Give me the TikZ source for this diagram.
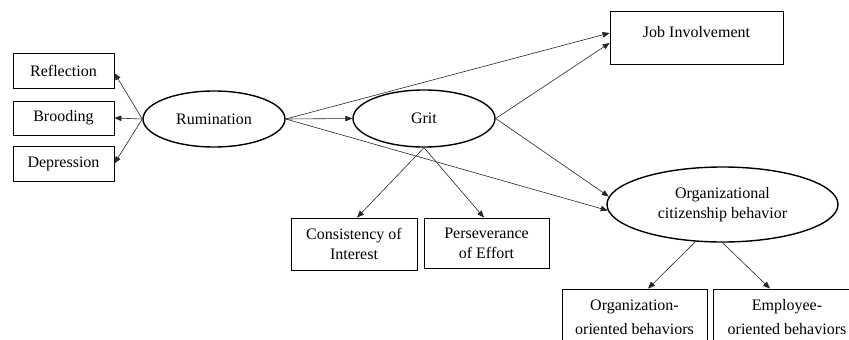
\documentclass[tikz,border=0pt]{standalone}
\usepackage{fontspec}
\setmainfont{Liberation Serif}
\usetikzlibrary{shapes.geometric,arrows.meta}
\begin{document}
\begin{tikzpicture}[x=1pt,y=-1pt,
  txt/.style={font=\fontsize{16}{20}\selectfont, align=center, inner sep=0pt},
  box/.style={txt, draw, line width=0.8pt, rectangle},
  oval/.style={txt, draw, line width=1.4pt, ellipse},
  arr/.style={-{Triangle[length=7pt,width=5.5pt]}, line width=0.6pt, draw=black!85}]
\useasboundingbox (0,0) rectangle (849,340);
\clip (0,0) rectangle (849,340);
% indicator boxes of rumination
\node[box, minimum width=101pt, minimum height=35pt] (refl) at (63.5,70.5) {Reflection};
\node[box, minimum width=101pt, minimum height=34pt] (brood) at (63.5,118) {Brooding};
\node[box, minimum width=101pt, minimum height=35pt] (depr) at (63.5,163.5) {Depression};
% latent variables
\node[oval, minimum width=142pt, minimum height=56pt] (rum) at (214,119) {Rumination};
\node[oval, minimum width=142pt, minimum height=57pt] (grit) at (424,118.5) {Grit};
\node[oval, minimum width=231pt, minimum height=75pt] (ocb) at (722.5,204.5) {Organizational\\citizenship behavior};
\node[box, minimum width=173pt, minimum height=53pt, text height=11pt, text depth=11pt] (job) at (696.5,37.5) {Job Involvement};
% grit indicators
\node[box, minimum width=126pt, minimum height=52pt] (cons) at (354,244) {Consistency of\\Interest};
\node[box, minimum width=125pt, minimum height=50pt] (pers) at (486.5,243) {Perseverance\\of Effort};
% ocb indicators
\node[box, font=\fontsize{16}{24}\selectfont, minimum width=145pt, minimum height=57pt] (org) at (634.5,317.5) {Organization-\\oriented behaviors};
\node[box, font=\fontsize{16}{24}\selectfont, minimum width=148pt, minimum height=57pt] (emp) at (787,317.5) {Employee-\\oriented behaviors};
% connectors
\draw[arr] (rum.west) -- ([yshift=-2.5pt]refl.east);
\draw[arr] (rum.west) -- (brood.east);
\draw[arr] (rum.west) -- (depr.east);
\draw[arr] (rum.east) -- (grit.west);
\draw[arr] (rum.east) -- ([yshift=4.5pt]job.west);
\draw[arr] (grit.east) -- ([yshift=-5.5pt]job.west);
\draw[arr] (rum.east) -- (ocb.183);
\draw[arr] (grit.east) -- (ocb.176);
\draw[arr] (grit.south) -- ([xshift=3pt]cons.north);
\draw[arr] (grit.south) -- ([xshift=-2.5pt]pers.north);
\draw[arr] (ocb.-126) -- ([xshift=13.5pt]org.north);
\draw[arr] (ocb.south) -- ([xshift=-17pt]emp.north);
\end{tikzpicture}
\end{document}
